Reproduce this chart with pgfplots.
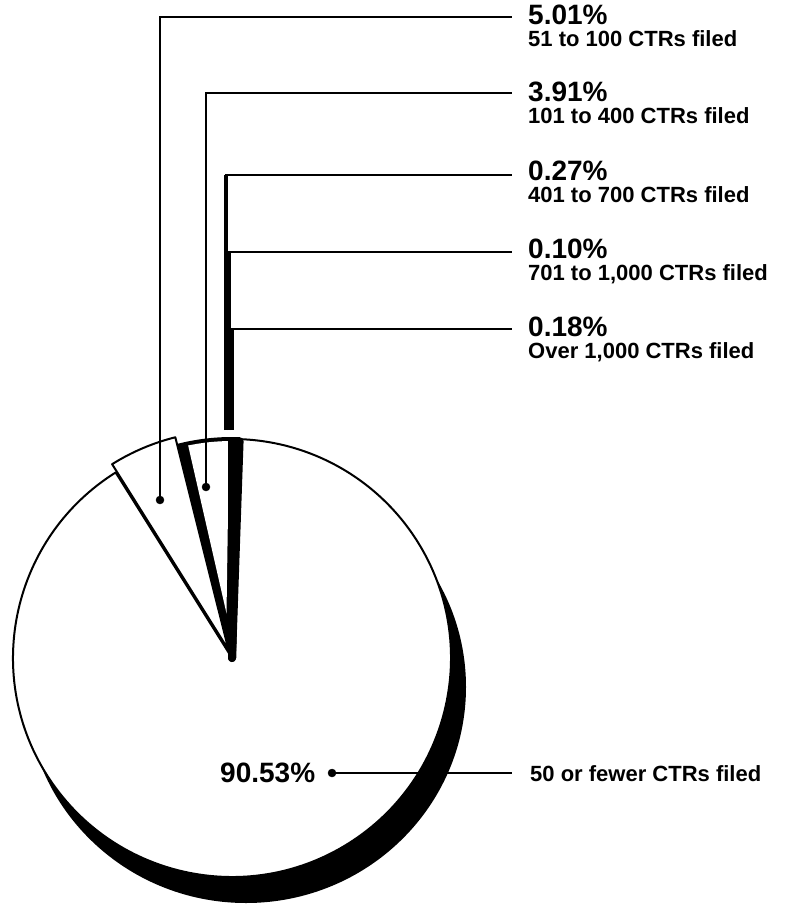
\documentclass[border=0pt]{standalone}
\usepackage{pgfplots}
\pgfplotsset{compat=1.18}
\usepackage{fontspec}
\setmainfont{Liberation Sans}
\usetikzlibrary{calc}
\newcommand{\pctfont}{\fontsize{28}{30}\selectfont\bfseries}
\newcommand{\descfont}{\fontsize{22}{25}\selectfont\bfseries}
% slice values (percent)
\def\vA{0.18}  % Over 1,000
\def\vB{0.10}  % 701 to 1,000
\def\vC{0.27}  % 401 to 700
\def\vD{3.91}  % 101 to 400
\def\vE{5.01}  % 51 to 100
\def\vF{90.53} % 50 or fewer
\pgfmathsetmacro{\aA}{88.0}
\pgfmathsetmacro{\aB}{\aA+3.6*\vA}
\pgfmathsetmacro{\aC}{\aB+3.6*\vB}
\pgfmathsetmacro{\aD}{\aC+3.6*\vC}
\pgfmathsetmacro{\aE}{\aD+3.6*\vD}
\pgfmathsetmacro{\aF}{\aE+3.6*\vE}
\pgfmathsetmacro{\aG}{\aF+3.6*\vF}
\pgfmathsetmacro{\aDi}{\aD+0.8}
\pgfmathsetmacro{\aEi}{\aE-2.4}
\pgfmathsetmacro{\aDm}{(\aD+\aE)/2}
\pgfmathsetmacro{\aEm}{(\aE+\aF)/2}
\begin{document}
\begin{tikzpicture}
\useasboundingbox (0,0) rectangle (785pt,904pt);
\begin{axis}[
  at={(0,0)}, anchor=south west,
  width=785pt, height=904pt, scale only axis,
  xmin=0, xmax=785, ymin=0, ymax=904, y dir=reverse,
  hide axis, clip=false,
]
% 3D shadow
\fill[black] (axis cs:246,687) ellipse [x radius=220pt, y radius=216pt];
% top face
\fill[white] (axis cs:232,658) circle [radius=219pt];
% 50 or fewer (main slice)
\filldraw[fill=white, draw=black, line width=2pt, line join=round]
  (axis cs:232,658) -- ++(\aF:219pt) arc[start angle=\aF, end angle=\aG, radius=219pt] -- cycle;
% 51 to 100 (exploded)
\filldraw[fill=white, draw=black, line width=2pt, line join=round]
  ($(axis cs:232,658)+(\aEm:9pt)$) -- ++(\aE:219pt) arc[start angle=\aE, end angle=\aF, radius=219pt] -- cycle;
% 101 to 400
\filldraw[fill=black, draw=black, line width=2pt, line join=round]
  (axis cs:232,658) -- ++(\aD:220pt) arc[start angle=\aD, end angle=\aE, radius=220pt] -- cycle;
\fill[white]
  ($(axis cs:232,658)+(\aDm:45pt)$) -- ($(axis cs:232,658)+(\aDi:217pt)$) arc[start angle=\aDi, end angle=\aEi, radius=217pt] -- cycle;
% tiny slices (black)
\filldraw[fill=black, draw=black, line width=8pt, line join=round]
  (axis cs:232,658) -- ++(\aA:217pt) arc[start angle=\aA, end angle=\aB, radius=217pt] -- cycle;
\filldraw[fill=black, draw=black, line width=8pt, line join=round]
  (axis cs:232,658) -- ++(\aB:217pt) arc[start angle=\aB, end angle=\aC, radius=217pt] -- cycle;
\filldraw[fill=black, draw=black, line width=8pt, line join=round]
  (axis cs:232,658) -- ++(\aC:217pt) arc[start angle=\aC, end angle=\aD, radius=217pt] -- cycle;
% leader lines
\draw[line width=2.5pt] (axis cs:160,500) -- (axis cs:160,17) -- (axis cs:512,17);
\draw[line width=2.5pt] (axis cs:206,487) -- (axis cs:206,93) -- (axis cs:512,93);
\draw[line width=3.4pt] (axis cs:226,430) -- (axis cs:226,175);
\draw[line width=3.4pt] (axis cs:229,430) -- (axis cs:229,252);
\draw[line width=3.4pt] (axis cs:232,430) -- (axis cs:232,329);
\draw[line width=2.5pt] (axis cs:225,175) -- (axis cs:512,175);
\draw[line width=2.5pt] (axis cs:228,252) -- (axis cs:512,252);
\draw[line width=2.5pt] (axis cs:231,329) -- (axis cs:512,329);
\draw[line width=2.5pt] (axis cs:332,773) -- (axis cs:512,773);
\addplot[only marks, mark=*, mark size=4pt, black] coordinates {(160,500) (206,487) (332,773)};
% labels
\node[anchor=base west, inner sep=0pt] at (axis cs:528,25) {\pctfont 5.01\%};
\node[anchor=base west, inner sep=0pt] at (axis cs:528,47) {\descfont 51 to 100 CTRs filed};
\node[anchor=base west, inner sep=0pt] at (axis cs:528,102) {\pctfont 3.91\%};
\node[anchor=base west, inner sep=0pt] at (axis cs:528,124) {\descfont 101 to 400 CTRs filed};
\node[anchor=base west, inner sep=0pt] at (axis cs:528,180) {\pctfont 0.27\%};
\node[anchor=base west, inner sep=0pt] at (axis cs:528,202) {\descfont 401 to 700 CTRs filed};
\node[anchor=base west, inner sep=0pt] at (axis cs:528,258) {\pctfont 0.10\%};
\node[anchor=base west, inner sep=0pt] at (axis cs:528,280) {\descfont 701 to 1,000 CTRs filed};
\node[anchor=base west, inner sep=0pt] at (axis cs:528,336) {\pctfont 0.18\%};
\node[anchor=base west, inner sep=0pt] at (axis cs:528,358) {\descfont Over 1,000 CTRs filed};
\node[anchor=base west, inner sep=0pt] at (axis cs:220,782) {\pctfont 90.53\%};
\node[anchor=base west, inner sep=0pt] at (axis cs:530,781) {\descfont 50 or fewer CTRs filed};
\end{axis}
\end{tikzpicture}
\end{document}
